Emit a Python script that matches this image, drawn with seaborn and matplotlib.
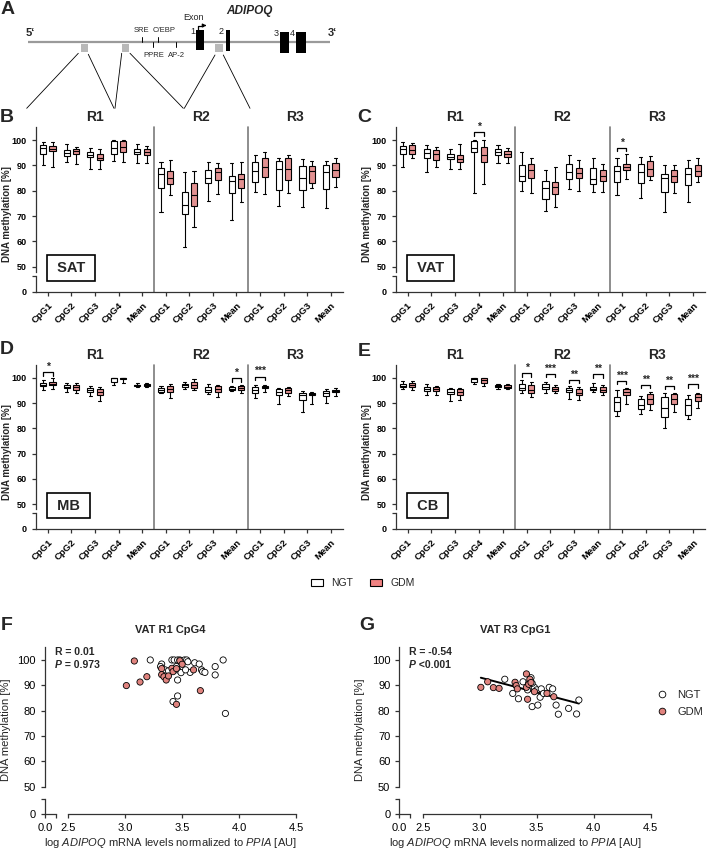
import numpy as np
import pandas as pd
import matplotlib
matplotlib.use('Agg')
import matplotlib.pyplot as plt
import matplotlib.transforms as mtransforms
from matplotlib.patches import Patch, Rectangle
from matplotlib.lines import Line2D
import seaborn as sns

# ---- data: five-number summaries (min, q1, median, q3, max) per CpG site ----
SITE_LABELS = ['CpG1', 'CpG2', 'CpG3', 'CpG4', 'Mean',
               'CpG1', 'CpG2', 'CpG3', 'Mean',
               'CpG1', 'CpG2', 'CpG3', 'Mean']
SITE_REGIONS = ['R1'] * 5 + ['R2'] * 4 + ['R3'] * 4
SITE_KEYS = [f'{r} {s}' for r, s in zip(SITE_REGIONS, SITE_LABELS)]

SAT_NGT = [[90.2, 94.3, 96.8, 98.0, 99.2], [91.2, 93.9, 95.0, 96.0, 98.3],
           [88.5, 93.2, 94.1, 95.1, 97.0], [91.8, 94.4, 96.8, 99.6, 100.0],
           [90.8, 94.3, 95.4, 96.4, 98.3],
           [71.5, 81.2, 86.6, 88.9, 91.2], [57.6, 70.7, 74.4, 79.3, 87.2],
           [75.9, 83.0, 85.0, 88.3, 91.3], [68.5, 79.0, 84.0, 86.0, 90.8],
           [79.6, 83.6, 87.6, 91.5, 94.0], [74.0, 80.3, 88.5, 91.8, 93.1],
           [73.6, 80.1, 85.0, 89.7, 92.5], [73.2, 80.6, 87.3, 90.0, 91.8]]
SAT_GDM = [[89.2, 95.6, 96.6, 97.7, 99.3], [90.4, 94.6, 95.6, 96.6, 97.4],
           [88.6, 92.0, 93.1, 94.4, 96.4], [91.5, 95.1, 97.4, 99.7, 100.0],
           [90.9, 94.1, 95.4, 96.4, 97.8],
           [78.4, 82.8, 85.2, 87.9, 92.0], [65.6, 73.8, 78.4, 83.0, 87.8],
           [78.8, 84.4, 87.5, 89.0, 90.9], [75.5, 81.2, 84.8, 86.6, 91.4],
           [78.7, 85.3, 89.3, 93.0, 95.1], [78.9, 84.2, 88.5, 92.8, 94.0],
           [81.2, 83.2, 87.6, 89.9, 91.6], [81.4, 85.3, 88.2, 90.8, 92.8]]
VAT_NGT = [[89.2, 94.6, 96.3, 97.5, 99.1], [87.2, 93.1, 95.0, 96.6, 98.1],
           [88.5, 92.6, 93.5, 94.6, 96.3], [79.2, 95.2, 96.8, 99.8, 100.0],
           [91.0, 94.0, 95.3, 96.3, 98.1],
           [79.7, 84.0, 86.0, 90.0, 95.4], [71.8, 76.6, 80.9, 83.7, 88.0],
           [80.6, 84.8, 87.5, 90.4, 94.2], [79.6, 82.8, 84.5, 88.8, 92.8],
           [78.4, 83.3, 87.8, 89.9, 93.0], [77.0, 83.2, 87.5, 90.6, 93.4],
           [71.7, 79.6, 84.9, 86.6, 90.1], [75.7, 82.2, 86.7, 89.1, 92.0]]
VAT_GDM = [[93.1, 94.4, 95.9, 97.9, 99.0], [89.2, 92.3, 94.5, 96.1, 97.2],
           [88.4, 91.2, 92.7, 94.0, 98.6], [82.5, 91.4, 94.2, 97.2, 100.0],
           [91.0, 93.5, 94.6, 95.6, 96.7],
           [79.0, 85.2, 88.2, 90.5, 93.1], [73.4, 78.5, 81.6, 83.5, 89.5],
           [80.0, 85.0, 87.0, 88.9, 92.3], [79.5, 83.8, 85.7, 88.0, 90.7],
           [84.6, 88.3, 89.2, 90.4, 94.5], [84.2, 85.8, 88.6, 91.8, 93.8],
           [79.0, 83.5, 85.9, 88.0, 90.2], [83.5, 85.8, 87.6, 90.0, 92.8]]
MB_NGT = [[95.1, 96.7, 97.3, 98.0, 99.0], [94.4, 95.8, 96.4, 97.1, 97.8],
          [92.9, 94.2, 95.0, 96.0, 96.8], [97.2, 98.4, 99.8, 100.0, 100.0],
          [96.2, 96.8, 97.0, 97.3, 97.8],
          [93.9, 94.4, 95.2, 96.1, 96.6], [95.7, 96.4, 97.0, 97.6, 98.2],
          [93.4, 94.5, 95.2, 96.2, 97.4], [94.9, 95.2, 95.7, 96.3, 96.6],
          [91.8, 93.8, 95.0, 96.5, 97.1], [89.5, 93.3, 94.5, 95.4, 96.0],
          [86.6, 91.3, 93.3, 94.0, 94.8], [89.9, 92.9, 94.0, 94.8, 95.6]]
MB_GDM = [[95.4, 97.2, 97.7, 98.3, 99.8], [93.8, 95.1, 96.3, 97.3, 97.8],
          [91.0, 93.0, 94.2, 95.4, 96.4], [97.8, 99.4, 100.0, 100.0, 100.0],
          [96.3, 96.8, 97.0, 97.4, 98.1],
          [91.9, 94.5, 95.5, 96.6, 97.6], [95.2, 96.1, 97.0, 98.5, 99.6],
          [92.2, 94.5, 95.5, 96.6, 97.2], [94.0, 95.3, 96.0, 96.6, 97.3],
          [94.5, 95.8, 96.3, 96.8, 97.2], [92.9, 94.1, 95.0, 95.8, 96.4],
          [89.5, 93.1, 93.6, 94.0, 94.2], [92.9, 94.3, 94.8, 95.3, 95.9]]
CB_NGT = [[95.4, 96.3, 96.9, 97.7, 98.6], [93.0, 94.8, 95.5, 96.4, 97.4],
          [90.9, 93.5, 94.3, 95.4, 95.8], [97.5, 98.4, 99.6, 100.0, 100.0],
          [95.5, 96.2, 96.6, 97.2, 97.7],
          [93.8, 95.0, 96.1, 97.4, 99.2], [94.1, 95.6, 96.5, 97.5, 98.2],
          [91.6, 94.4, 95.2, 96.0, 96.8], [94.2, 95.2, 95.7, 96.5, 97.9],
          [85.0, 87.0, 90.4, 92.2, 95.1], [85.7, 87.8, 89.3, 91.5, 92.8],
          [80.2, 84.6, 88.0, 92.3, 93.8], [83.5, 85.4, 89.3, 91.5, 93.3]]
CB_GDM = [[95.3, 96.2, 97.0, 98.1, 98.9], [93.2, 94.9, 95.5, 96.2, 96.8],
          [91.3, 93.2, 94.4, 95.4, 95.8], [96.6, 97.8, 99.2, 99.8, 100.0],
          [95.4, 96.0, 96.4, 97.1, 97.7],
          [92.5, 93.8, 95.2, 97.2, 98.4], [93.8, 94.9, 95.5, 96.4, 97.0],
          [91.2, 93.0, 94.0, 95.4, 96.2], [93.3, 94.2, 95.0, 96.2, 97.0],
          [89.5, 93.0, 94.3, 95.5, 96.0], [87.2, 89.7, 91.7, 93.6, 94.2],
          [86.5, 89.8, 91.5, 93.4, 94.0], [88.0, 90.8, 92.2, 93.5, 94.0]]

# significance brackets: (site index, bracket height, stars)
VAT_SIG = [(3, 103.0, '*'), (9, 96.8, '*')]
MB_SIG = [(0, 102.1, '*'), (8, 99.8, '*'), (9, 100.4, '***')]
CB_SIG = [(5, 101.7, '*'), (6, 101.4, '***'), (7, 99.1, '**'), (8, 101.3, '**'),
          (9, 98.7, '***'), (10, 97.1, '**'), (11, 96.7, '**'), (12, 97.4, '***')]

# scatter: log ADIPOQ mRNA vs methylation
F_NGT_X = [3.22, 3.32, 3.31, 3.35, 3.41, 3.43, 3.46, 3.48, 3.52, 3.54, 3.55, 3.45, 3.46, 3.49, 3.46,
           3.57, 3.61, 3.65, 3.67, 3.68, 3.70, 3.79, 3.79, 3.86, 3.88, 3.42, 3.46, 3.38, 3.53]
F_NGT_Y = [100, 98.4, 97.4, 96.1, 100, 100, 100, 100, 100, 100, 99.3, 97.4, 96.1, 95.0, 92.1,
           95.1, 98.9, 98.4, 96.1, 95.4, 95.1, 97.4, 94.1, 100, 78.9, 83.6, 85.8, 95.7, 96.1]
F_GDM_X = [3.01, 3.08, 3.13, 3.19, 3.32, 3.32, 3.34, 3.36, 3.38, 3.41, 3.42, 3.45, 3.48, 3.50,
           3.45, 3.60, 3.66]
F_GDM_Y = [89.9, 99.6, 91.3, 93.4, 96.6, 94.2, 93.4, 92.1, 93.7, 96.7, 95.4, 96.6, 99.7, 98.3,
           82.5, 96.1, 87.9]
G_NGT_X = [3.22, 3.29, 3.34, 3.38, 3.43, 3.44, 3.45, 3.46, 3.48, 3.50, 3.51, 3.53, 3.54, 3.56,
           3.61, 3.64, 3.67, 3.69, 3.78, 3.85, 3.87, 3.42, 3.46]
G_NGT_Y = [92.4, 86.8, 84.7, 91.4, 90.8, 89.2, 93.0, 81.6, 89.2, 88.2, 82.2, 85.3, 88.6, 86.8,
           89.2, 88.6, 82.2, 78.6, 80.9, 78.7, 84.2, 88.2, 90.8]
G_GDM_X = [3.01, 3.07, 3.12, 3.17, 3.31, 3.32, 3.33, 3.41, 3.41, 3.42, 3.43, 3.44, 3.45, 3.48,
           3.59, 3.65]
G_GDM_Y = [89.2, 91.4, 89.1, 88.8, 91.2, 89.9, 88.6, 94.5, 89.2, 84.5, 90.4, 92.4, 91.1, 87.5,
           86.8, 85.5]

PINK = '#F08282'
PINK_DOT = '#E0837E'
AXC = '#333333'

sns.set_theme(style='ticks')
plt.rcParams['font.family'] = ['Liberation Sans', 'DejaVu Sans']
plt.rcParams['mathtext.fontset'] = 'custom'
plt.rcParams['mathtext.rm'] = 'Liberation Sans'
plt.rcParams['mathtext.it'] = 'Liberation Sans:italic'
plt.rcParams['mathtext.bf'] = 'Liberation Sans:bold'

W, H = 709, 859
fig = plt.figure(figsize=(W / 100, H / 100), dpi=100)


def px_box(l, t, r, b):
    return [l / W, 1 - b / H, (r - l) / W, (b - t) / H]


# overlay in pixel coords for the gene scheme, letters and legend
ov = fig.add_axes([0, 0, 1, 1])
ov.set_xlim(0, W)
ov.set_ylim(H, 0)
ov.axis('off')

# ---- panel A: ADIPOQ gene scheme ----
ov.plot([28, 330], [41.7, 41.7], color='#9a9a9a', lw=1.6, solid_capstyle='butt', zorder=1)
ov.text(30, 33, '5‘', fontsize=8, fontweight='bold', ha='center', va='center')
ov.text(332, 33, '3‘', fontsize=8, fontweight='bold', ha='center', va='center')
for x0 in [80.7, 121.7, 215]:
    ov.add_patch(Rectangle((x0, 43.5), 7.5, 8, fc='#b8b8b8', ec='none', zorder=2))
for x0, x1, y0, y1 in [(196, 204, 30, 50), (226, 230, 30, 50.5), (280, 288.5, 31.5, 52.5), (296, 305.5, 31.5, 52.5)]:
    ov.add_patch(Rectangle((x0, y0), x1 - x0, y1 - y0, fc='black', ec='none', zorder=3))
for lab, x, y in [('1', 193, 31), ('2', 221.5, 31), ('3', 276.5, 33), ('4', 292.5, 33)]:
    ov.text(x, y, lab, fontsize=6.5, ha='center', va='center')
ov.text(194, 17, 'Exon', fontsize=6.5, ha='center', va='center')
ov.plot([197.8, 197.8, 203], [30, 25.5, 25.5], color='black', lw=0.9)
ov.annotate('', xy=(206.5, 25.5), xytext=(202, 25.5),
            arrowprops=dict(arrowstyle='-|>', color='black', lw=0.9, mutation_scale=5))
ov.text(249, 11, 'ADIPOQ', fontsize=8.5, fontweight='bold', style='italic', ha='center', va='center')
for lab, x, up in [('SRE', 142.3, True), ('C/EBP', 158.3, True), ('PPRE', 153.3, False), ('AP-2', 176, False)]:
    if up:
        ov.plot([x, x], [36.5, 41.7], color='black', lw=0.7)
        ov.text(x - 1 if lab == 'SRE' else x + 6, 30.5, lab, fontsize=5.5, ha='center', va='center')
    else:
        ov.plot([x, x], [41.7, 47], color='black', lw=0.7)
        ov.text(x + 0.5, 55.5, lab, fontsize=5.5, ha='center', va='center')
for (x0, y0), (x1, y1) in [((78.3, 53.3), (26.7, 108.3)), ((88.3, 54.3), (114, 108.3)),
                           ((121.7, 53.3), (115, 108.3)), ((130, 53.3), (183.3, 108.3)),
                           ((215, 55), (184.3, 108.3)), ((223.3, 55), (250, 108.3))]:
    ov.plot([x0, x1], [y0, y1], color='black', lw=0.6)

for lab, x, y in [('A', 7.5, 9.5), ('B', 7, 117), ('C', 364, 117), ('D', 7, 350),
                  ('E', 364, 351), ('F', 7, 626), ('G', 367, 626)]:
    ov.text(x, y, lab, fontsize=14, fontweight='bold', ha='center', va='center')


def box_frame(ngt, gdm):
    rows = []
    for group, stats in (('NGT', ngt), ('GDM', gdm)):
        for site, values in zip(SITE_KEYS, stats):
            for v in values:
                rows.append((site, group, v))
    return pd.DataFrame(rows, columns=['site', 'group', 'value'])


def style_spines(ax, lw=0.9):
    for s in ax.spines.values():
        s.set_color(AXC)
        s.set_linewidth(lw)
    ax.tick_params(colors=AXC, labelcolor='black', width=lw, length=3)


def methylation_panel(geo, ngt, gdm, tissue, sig, label_x):
    l, r, top, brk, low, zero = geo
    ax = fig.add_axes(px_box(l, top, r, brk))
    axb = fig.add_axes(px_box(l, low, r, zero))
    sns.boxplot(data=box_frame(ngt, gdm), x='site', y='value', hue='group',
                order=SITE_KEYS, hue_order=['NGT', 'GDM'],
                palette={'NGT': 'white', 'GDM': PINK}, whis=(0, 100),
                width=0.8, gap=0.35, linecolor='black', linewidth=0.8,
                fliersize=0, legend=False, ax=ax)
    ax.set_xlim(-0.5, 12.5)
    ax.set_ylim(48, 105)
    ax.set_yticks(range(50, 101, 10))
    ax.set_xlabel('')
    ax.set_ylabel('DNA methylation [%]', fontsize=7, fontweight='bold')
    # ylabel anchor is the right edge of the rotated text
    ax.yaxis.set_label_coords((label_x + 5 - l) / (r - l), 0.4)
    ax.patch.set_alpha(0)
    for s in ['top', 'right', 'bottom']:
        ax.spines[s].set_visible(False)
    style_spines(ax)
    ax.tick_params(axis='x', bottom=False, labelbottom=False)
    ax.tick_params(axis='y', labelsize=6.5)
    for t in ax.get_yticklabels():
        t.set_fontweight('bold')

    axb.set_xlim(-0.5, 12.5)
    axb.set_ylim(0, (zero - low) / 2.53)
    axb.set_yticks([0, (zero - low) / 2.53])
    axb.set_yticklabels(['0', ''])
    axb.set_xticks(range(len(SITE_LABELS)))
    axb.set_xticklabels(SITE_LABELS, rotation=45, ha='right', rotation_mode='anchor')
    axb.patch.set_alpha(0)
    for s in ['top', 'right']:
        axb.spines[s].set_visible(False)
    style_spines(axb)
    axb.tick_params(labelsize=6.5)
    axb.tick_params(axis='x', labelsize=6.8)
    for t in axb.get_yticklabels() + axb.get_xticklabels():
        t.set_fontweight('bold')

    for x in [4.5, 8.5]:
        ax.axvline(x, ymin=-(zero - brk) / (brk - top), ymax=1, color='#7a7a7a',
                   lw=1.2, clip_on=False)
    trans = mtransforms.blended_transform_factory(ax.transData, ax.transAxes)
    for name, c in [('R1', 2), ('R2', 6.5), ('R3', 10.5)]:
        ax.text(c, 1 + 10.5 / (brk - top), name, transform=trans, ha='center',
                va='center', fontsize=10, fontweight='bold')
    ax.annotate(f' {tissue} ', xy=(-0.02, 49.5), xytext=(4.2, 0), textcoords='offset points',
                ha='left', va='center', fontsize=10.5, fontweight='bold', zorder=6,
                annotation_clip=False,
                bbox=dict(boxstyle='square,pad=0.4', fc='white', ec='black', lw=1.2))
    for c, y, stars in sig:
        ax.plot([c - 0.2, c - 0.2, c + 0.2, c + 0.2], [y - 1.3, y, y, y - 1.3],
                color='black', lw=0.9, clip_on=False)
        ax.text(c, y + 0.2, stars, ha='center', va='bottom', fontsize=7.5,
                fontweight='bold', clip_on=False)


GEO_B = (36, 342.6, 127.4, 271.7, 276, 291.7)
GEO_C = (395.7, 705, 127.4, 271.7, 276, 291.7)
GEO_D = (36, 342.6, 365.1, 509.3, 512.7, 529)
GEO_E = (395.7, 705, 365.1, 509.3, 512.7, 529)
methylation_panel(GEO_B, SAT_NGT, SAT_GDM, 'SAT', [], 7.5)
methylation_panel(GEO_C, VAT_NGT, VAT_GDM, 'VAT', VAT_SIG, 367.5)
methylation_panel(GEO_D, MB_NGT, MB_GDM, 'MB', MB_SIG, 7.5)
methylation_panel(GEO_E, CB_NGT, CB_GDM, 'CB', CB_SIG, 367.5)

fig.legend(handles=[Patch(fc='white', ec='black', lw=0.8, label='NGT'),
                    Patch(fc=PINK, ec='black', lw=0.8, label='GDM')],
           loc='center', bbox_to_anchor=(363 / W, 1 - 583 / H), ncol=2, frameon=False,
           fontsize=7.5, handlelength=1.15, handleheight=0.7, handletextpad=0.8,
           columnspacing=1.6)


def scatter_panel(l0, l1, r, nx, ny, gx, gy, title, title_x, r_txt, p_txt, fit=False, legend=False):
    top, bm, zero = 647.3, 786.7, 814
    ax = fig.add_axes(px_box(l1, top, r, bm))
    df = pd.DataFrame({'x': nx + gx, 'y': ny + gy,
                       'group': ['NGT'] * len(nx) + ['GDM'] * len(gx)})
    sns.scatterplot(data=df, x='x', y='y', hue='group', hue_order=['NGT', 'GDM'],
                    palette={'NGT': 'white', 'GDM': PINK_DOT}, s=20, edgecolor='black',
                    linewidth=0.6, legend=False, ax=ax, zorder=3)
    if fit:
        sns.regplot(data=df, x='x', y='y', scatter=False, ci=None, color='black',
                    line_kws={'lw': 1.4}, ax=ax)
    ax.set_xlim(2.5, 4.5)
    ax.set_ylim(50, 105)
    ax.set_xticks([2.5, 3.0, 3.5, 4.0, 4.5])
    ax.set_xticklabels(['2.5', '3.0', '3.5', '4.0', '4.5'])
    ax.set_yticks(range(50, 101, 10))
    ax.spines['left'].set_position(('outward', (l1 - l0) * 0.72))
    ax.spines['bottom'].set_position(('outward', (zero - bm) * 0.72))
    ax.spines['left'].set_bounds(50, 105)
    ax.spines['bottom'].set_bounds(2.5, 4.5)
    for s in ['top', 'right']:
        ax.spines[s].set_visible(False)
    ax.patch.set_alpha(0)
    style_spines(ax)
    ax.tick_params(labelsize=8)
    ax.set_ylabel('DNA methylation [%]', fontsize=8)
    ax.yaxis.set_label_coords((l0 - 34 - l1) / (r - l1), 0.41)
    ax.set_xlabel(r'log $\mathit{ADIPOQ}$ mRNA levels normalized to $\mathit{PPIA}$ [AU]', fontsize=8)
    # xlabel anchor is the top of the text
    ax.xaxis.set_label_coords((title_x - l1) / (r - l1), -(836.5 - bm) / (bm - top))

    axc = fig.add_axes(px_box(l0, zero - 14.7, l0 + 10.5, zero))
    axc.set_xlim(0, 1)
    axc.set_ylim(0, 1)
    axc.set_xticks([0, 1])
    axc.set_xticklabels(['0.0', ''])
    axc.set_yticks([0, 1])
    axc.set_yticklabels(['0', ''])
    for s in ['top', 'right']:
        axc.spines[s].set_visible(False)
    axc.patch.set_alpha(0)
    style_spines(axc)
    axc.tick_params(labelsize=8)

    ov.text(title_x, 630, title, fontsize=8, fontweight='bold', ha='center', va='center')
    ov.text(l0 + 10, 652, r_txt, fontsize=7.5, fontweight='bold', ha='left', va='center')
    ov.text(l0 + 10, 665.5, 'P', fontsize=7.5, fontweight='bold', style='italic',
            ha='left', va='center')
    ov.text(l0 + 16.5, 665.5, p_txt, fontsize=7.5, fontweight='bold', ha='left', va='center')

    if legend:
        handles = [Line2D([], [], ls='', marker='o', ms=4.8, mfc='white', mec='black', mew=0.6, label='NGT'),
                   Line2D([], [], ls='', marker='o', ms=4.8, mfc=PINK_DOT, mec='black', mew=0.6, label='GDM')]
        ax.legend(handles=handles, loc='center left', frameon=False, fontsize=8,
                  bbox_to_anchor=((656 - l1) / (r - l1), (bm - 703.5) / (bm - top)),
                  borderaxespad=0, borderpad=0, handlelength=1.0, handletextpad=0.9,
                  labelspacing=0.6)


scatter_panel(45, 68.3, 296, F_NGT_X, F_NGT_Y, F_GDM_X, F_GDM_Y,
              'VAT R1 CpG4', 170.5, 'R = 0.01', ' = 0.973')
scatter_panel(399.3, 422.7, 650.7, G_NGT_X, G_NGT_Y, G_GDM_X, G_GDM_Y,
              'VAT R3 CpG1', 515, 'R = -0.54', ' <0.001', fit=True, legend=True)

fig.savefig('out.png', dpi=100)
